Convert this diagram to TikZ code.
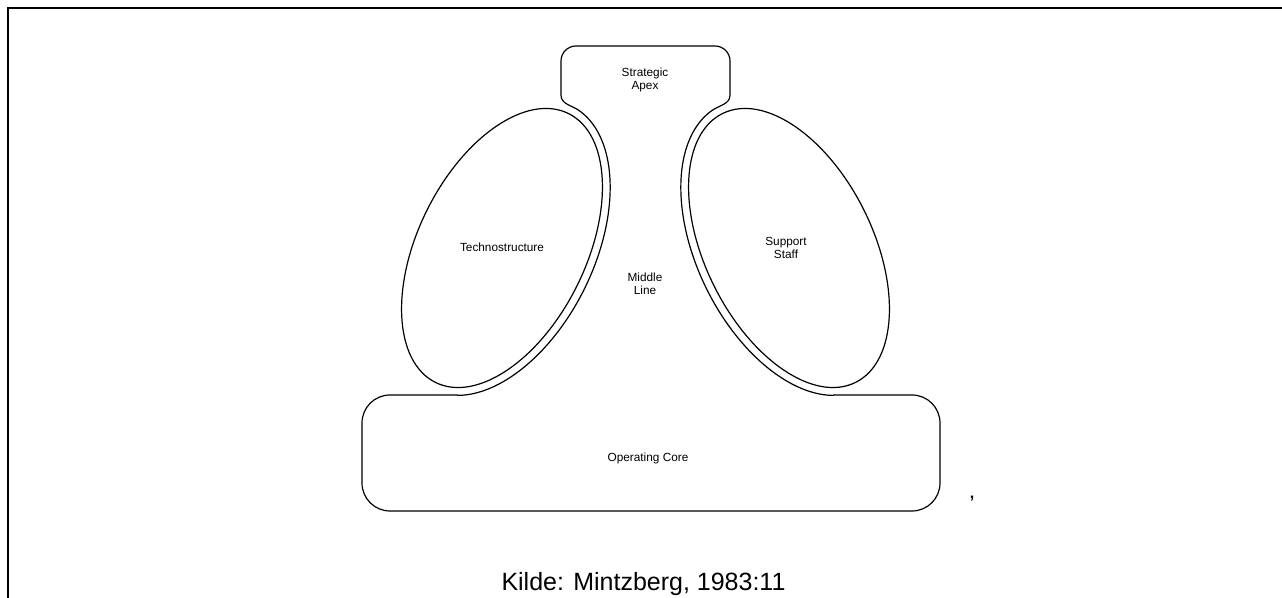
\documentclass[tikz,border=0pt]{standalone}
\usepackage{fontspec}
\setmainfont{Liberation Sans}
\begin{document}
\begin{tikzpicture}[x=1pt,y=1pt,
  shapeline/.style={line width=1.2pt, line join=round, line cap=round},
  lbl/.style={font=\fontsize{11.8}{13}\selectfont, align=center, inner sep=0pt},
]
\useasboundingbox (0,0) rectangle (1282,597);
% frame
\draw[line width=2.4pt] (7.8,-5) |- (1290,588.7);

% ellipses
\draw[shapeline, rotate around={63.7:(502,349)}] (502,349) ellipse [x radius=150, y radius=84];
\draw[shapeline, rotate around={116.3:(789,349)}] (789,349) ellipse [x radius=150, y radius=84];

% strategic apex + neck
\draw[shapeline] (578.9,486.6) to[out=145.2,in=-90] (561,502) -- (561,536)
  arc[start angle=180,end angle=90,radius=15] -- (715,551)
  arc[start angle=90,end angle=0,radius=15] -- (730,502)
  to[out=-90,in=34.8] (712.1,486.6);

% middle line outer contours
\draw[shapeline] plot[domain=-5:-163.8, samples=90, smooth]
  ({502 + 158*cos(\x)*0.4431 - 92*sin(\x)*0.8965}, {349 + 158*cos(\x)*0.8965 + 92*sin(\x)*0.4431});
\draw[shapeline] plot[domain=-5:-163.8, samples=90, smooth]
  ({789 - 158*cos(\x)*0.4431 + 92*sin(\x)*0.8965}, {349 + 158*cos(\x)*0.8965 + 92*sin(\x)*0.4431});

% operating core
\draw[shapeline] (457.8,202) -- (390,202) arc[start angle=90,end angle=180,radius=28]
  -- (362,114) arc[start angle=180,end angle=270,radius=28]
  -- (912,86) arc[start angle=270,end angle=360,radius=28]
  -- (940,174) arc[start angle=0,end angle=90,radius=28] -- (833.2,202);

% labels
\node[lbl] (apex) at (645,517) {Strategic\\Apex};
\node[lbl] (techno) at (502,350) {Technostructure};
\node[lbl] (middle) at (645,313) {Middle\\Line};
\node[lbl] (support) at (786,349) {Support\\Staff};
\node[lbl] (core) at (648,139) {Operating Core};
\node[font=\bfseries\fontsize{16}{16}\selectfont, inner sep=0pt] (comma) at (972,98) {,};
\node[font=\fontsize{25}{28}\selectfont, anchor=base, inner sep=0pt] (source) at (643.5,6.5) {Kilde: Mintzberg, 1983:11};
\end{tikzpicture}
\end{document}
